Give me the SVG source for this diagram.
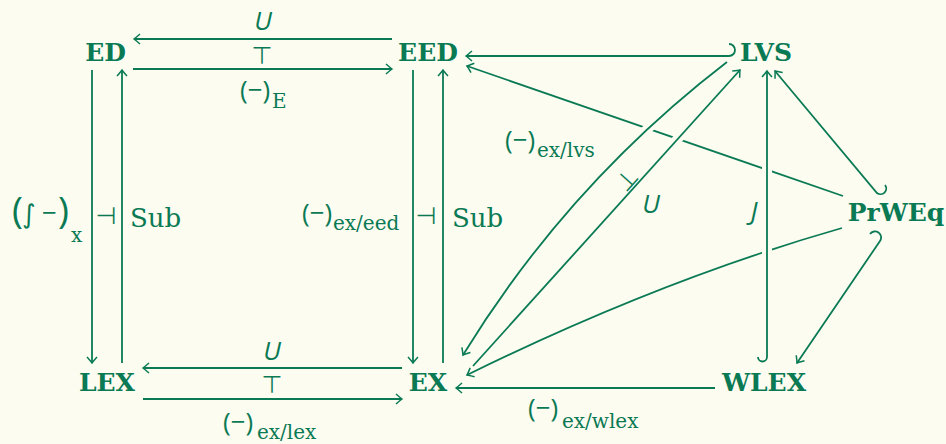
<svg xmlns="http://www.w3.org/2000/svg" width="946" height="444" viewBox="0 0 946 444">
<style>
.n{font-family:"DejaVu Serif",serif;font-weight:bold;font-size:25px;fill:#0a7a55;text-anchor:middle}
.m{font-family:"Open Sans",sans-serif;font-size:26px;fill:#0a7a55}
.i{font-family:"Open Sans",sans-serif;font-style:italic;font-size:26px;fill:#0a7a55;text-anchor:middle}
.s{font-family:"DejaVu Serif",serif;font-size:20px;fill:#0a7a55}
.t{font-family:"DejaVu Serif",serif;font-size:26px;fill:#0a7a55}
.y{font-family:"DejaVu Sans",sans-serif;font-size:24px;fill:#0a7a55;text-anchor:middle}
.e{fill:none;stroke:#0a7a55;stroke-width:1.8}
.a{marker-end:url(#ah)}
.h{fill:none;stroke:#fdfcf0;stroke-width:10}
</style>
<defs>
<marker id="ah" markerUnits="userSpaceOnUse" orient="auto" markerWidth="10" markerHeight="12" viewBox="-8 -6 10 12" refX="0" refY="0" overflow="visible">
<path d="M-6,-5 Q-1.5,-1 0,0 Q-1.5,1 -6,5" fill="none" stroke="#0a7a55" stroke-width="1.5"/>
</marker>
</defs>
<rect width="946" height="444" fill="#fdfcf0"/>
<g id="connectors">
<path class="e a" d="M843,196 L467,66"/>
<path class="e a" d="M842,228 Q660,280 467,375"/>
<path class="h" d="M767,160 L767,178 M767,242 L767,260 M671.3,145.9 L684.7,131.1 M641.5,134.7 L654.5,122.3"/>
<path class="e a" d="M392,39 L134,39"/>
<path class="e a" d="M133,69 L392,69"/>
<path class="e a" d="M92,70 L92,363"/>
<path class="e a" d="M122,363 L122,70"/>
<path class="e a" d="M413,70 L413,363"/>
<path class="e a" d="M443,363 L443,70"/>
<path class="e a" d="M402,368 L143,368"/>
<path class="e a" d="M143,399 L402,399"/>
<path class="e a" d="M729,44 A6,6 0 0 1 729,56 L466,56"/>
<path class="e a" d="M727,62 Q568,184 463,355"/>
<path class="e a" d="M473,366 L740,70"/>
<path class="e a" d="M758,357 A4.5,4.5 0 0 0 767,357 L767,71"/>
<path class="e a" d="M885,185 A5.7,5.7 0 0 1 877,193 L775,71"/>
<path class="e a" d="M870,234 A6.1,6.1 0 0 1 880,241 L797,363"/>
<path class="e a" d="M715,388 L456,388"/>
</g>
<g id="labels">
<text class="i" x="263" y="30">U</text>
<text class="y" x="262" y="64">⊤</text>
<text class="m" x="240" y="99">(−)</text><text class="s" x="272" y="108">E</text>
<text class="m" x="12" y="223"><tspan style="font-size:37px">(</tspan><tspan x="22" style="font-family:'DejaVu Sans',sans-serif">∫</tspan><tspan x="42" y="222">−</tspan><tspan x="58" y="223" style="font-size:37px">)</tspan><tspan x="71" y="242" style="font-family:'DejaVu Serif',serif;font-size:20px">x</tspan></text>
<text class="y" x="106" y="224">⊣</text>
<text class="t" x="130" y="227">Sub</text>
<text class="m" x="302" y="222">(−)</text><text class="s" x="333" y="230">ex/eed</text>
<text class="y" x="426" y="224">⊣</text>
<text class="t" x="452" y="227">Sub</text>
<text class="i" x="272" y="360">U</text>
<text class="y" x="272" y="393">⊤</text>
<text class="m" x="223" y="431">(−)</text><text class="s" x="257" y="439">ex/lex</text>
<text class="m" x="505" y="149">(−)</text><text class="s" x="537" y="157">ex/lvs</text>
<text class="y" transform="translate(627,180) rotate(-48)" y="8">⊥</text>
<text class="i" x="651" y="213">U</text>
<text class="i" x="754" y="220">J</text>
<text class="m" x="528" y="417">(−)</text><text class="s" x="562" y="428">ex/wlex</text>
</g>
<g id="ED"><text class="n" x="105.5" y="61">ED</text></g>
<g id="EED"><text class="n" x="428" y="61">EED</text></g>
<g id="LVS"><text class="n" x="766" y="61">LVS</text></g>
<g id="LEX"><text class="n" x="107" y="391">LEX</text></g>
<g id="EX"><text class="n" x="428" y="391">EX</text></g>
<g id="WLEX"><text class="n" x="764" y="391">WLEX</text></g>
<g id="PrWEq"><text class="n" x="896" y="221">PrWEq</text></g>
</svg>
